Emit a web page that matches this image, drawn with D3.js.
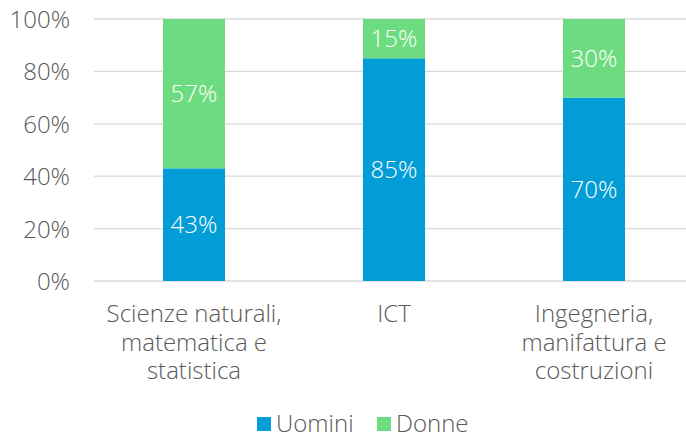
<!DOCTYPE html>
<html>
<head>
<meta charset="utf-8">
<script src="https://cdn.jsdelivr.net/npm/d3@7"></script>
<style>
  body { margin: 0; background: #fff; }
  text { font-family: "Open Sans", Lato, sans-serif; font-weight: 300; }
</style>
</head>
<body>
<div id="chart"></div>
<script>
// data
var categories = [
    ['Scienze naturali,', 'matematica e', 'statistica'],
    ['ICT'],
    ['Ingegneria,', 'manifattura e', 'costruzioni']
];
var uomini = [0.43, 0.85, 0.70];
var donne  = [0.57, 0.15, 0.30];
var seriesNames = ['Uomini', 'Donne'];
var yTicks = [0, 0.2, 0.4, 0.6, 0.8, 1];

var colors = { Uomini: '#029cd7', Donne: '#6ddc80' };

var W = 686, H = 436;
var margin = { top: 19, right: -8, bottom: 155, left: 94 };
var width  = W - margin.left - margin.right,
    height = H - margin.top - margin.bottom;

var svg = d3.select('#chart').append('svg')
            .attr('width', W)
            .attr('height', H);

var g = svg.append('g')
           .attr('transform', 'translate(' + margin.left + ',' + margin.top + ')');

var x = d3.scaleBand()
          .domain(d3.range(categories.length))
          .range([0, width])
          .paddingInner(0.69)
          .paddingOuter(0.345);
var y = d3.scaleLinear()
          .domain([0, 1])
          .range([height, 0]);

// gridlines
g.selectAll('.grid')
 .data(yTicks)
 .enter().append('line')
   .attr('x1', 0)
   .attr('x2', W - margin.left)
   .attr('y1', function(d) { return y(d); })
   .attr('y2', function(d) { return y(d); })
   .attr('stroke', '#d9d9d9')
   .attr('stroke-width', 1.3);

// y axis labels
var yAxis = g.append('g')
   .attr('transform', 'translate(-21,0)')
   .call(d3.axisLeft(y).tickValues(yTicks).tickFormat(d3.format('.0%')).tickSize(0));
yAxis.select('.domain').remove();
yAxis.selectAll('text')
     .attr('fill', '#595959')
     .style('font-size', '24px')
     .style('font-family', '"Open Sans", sans-serif')
     .style('font-weight', 300)
     .attr('dy', '0.35em');

// stacked data
var rows = categories.map(function(c, i) {
    return { i: i, Uomini: uomini[i], Donne: donne[i] };
});
var stack = d3.stack().keys(seriesNames)(rows);

var layers = g.selectAll('.layer')
   .data(stack)
   .enter().append('g')
     .attr('fill', function(d) { return colors[d.key]; });

layers.selectAll('rect')
   .data(function(d) { return d; })
   .enter().append('rect')
     .attr('x', function(d) { return x(d.data.i); })
     .attr('width', x.bandwidth())
     .attr('y', function(d) { return y(d[1]); })
     .attr('height', function(d) { return y(d[0]) - y(d[1]); });

// value labels
layers.selectAll('.lbl')
   .data(function(d) { return d; })
   .enter().append('text')
     .attr('x', function(d) { return x(d.data.i) + x.bandwidth() / 2; })
     .attr('y', function(d) { return (y(d[0]) + y(d[1])) / 2; })
     .attr('dy', '0.35em')
     .attr('text-anchor', 'middle')
     .attr('fill', '#fff')
     .style('font-size', '24px')
     .text(function(d) { return Math.round((d[1] - d[0]) * 100) + '%'; });

// category labels
var cat = g.selectAll('.cat')
   .data(categories)
   .enter().append('text')
     .attr('text-anchor', 'middle')
     .attr('fill', '#595959')
     .style('font-size', '24px')
     .attr('transform', function(d, i) {
         return 'translate(' + (x(i) + x.bandwidth() / 2) + ',' + (height + 41) + ')';
     });
cat.selectAll('tspan')
   .data(function(d) { return d; })
   .enter().append('tspan')
     .attr('x', 0)
     .attr('y', function(d, j) { return j * 28.5; })
     .text(function(d) { return d; });

// legend
var legend = svg.append('g')
   .attr('transform', 'translate(257,424)');
var legX = [0, 120];
seriesNames.forEach(function(s, i) {
    legend.append('rect')
          .attr('x', legX[i])
          .attr('y', -7)
          .attr('width', 14)
          .attr('height', 14)
          .attr('fill', colors[s]);
    legend.append('text')
          .attr('x', legX[i] + 19)
          .attr('y', 0)
          .attr('dy', '0.35em')
          .attr('fill', '#595959')
          .style('font-size', '24px')
          .text(s);
});
</script>
</body>
</html>
